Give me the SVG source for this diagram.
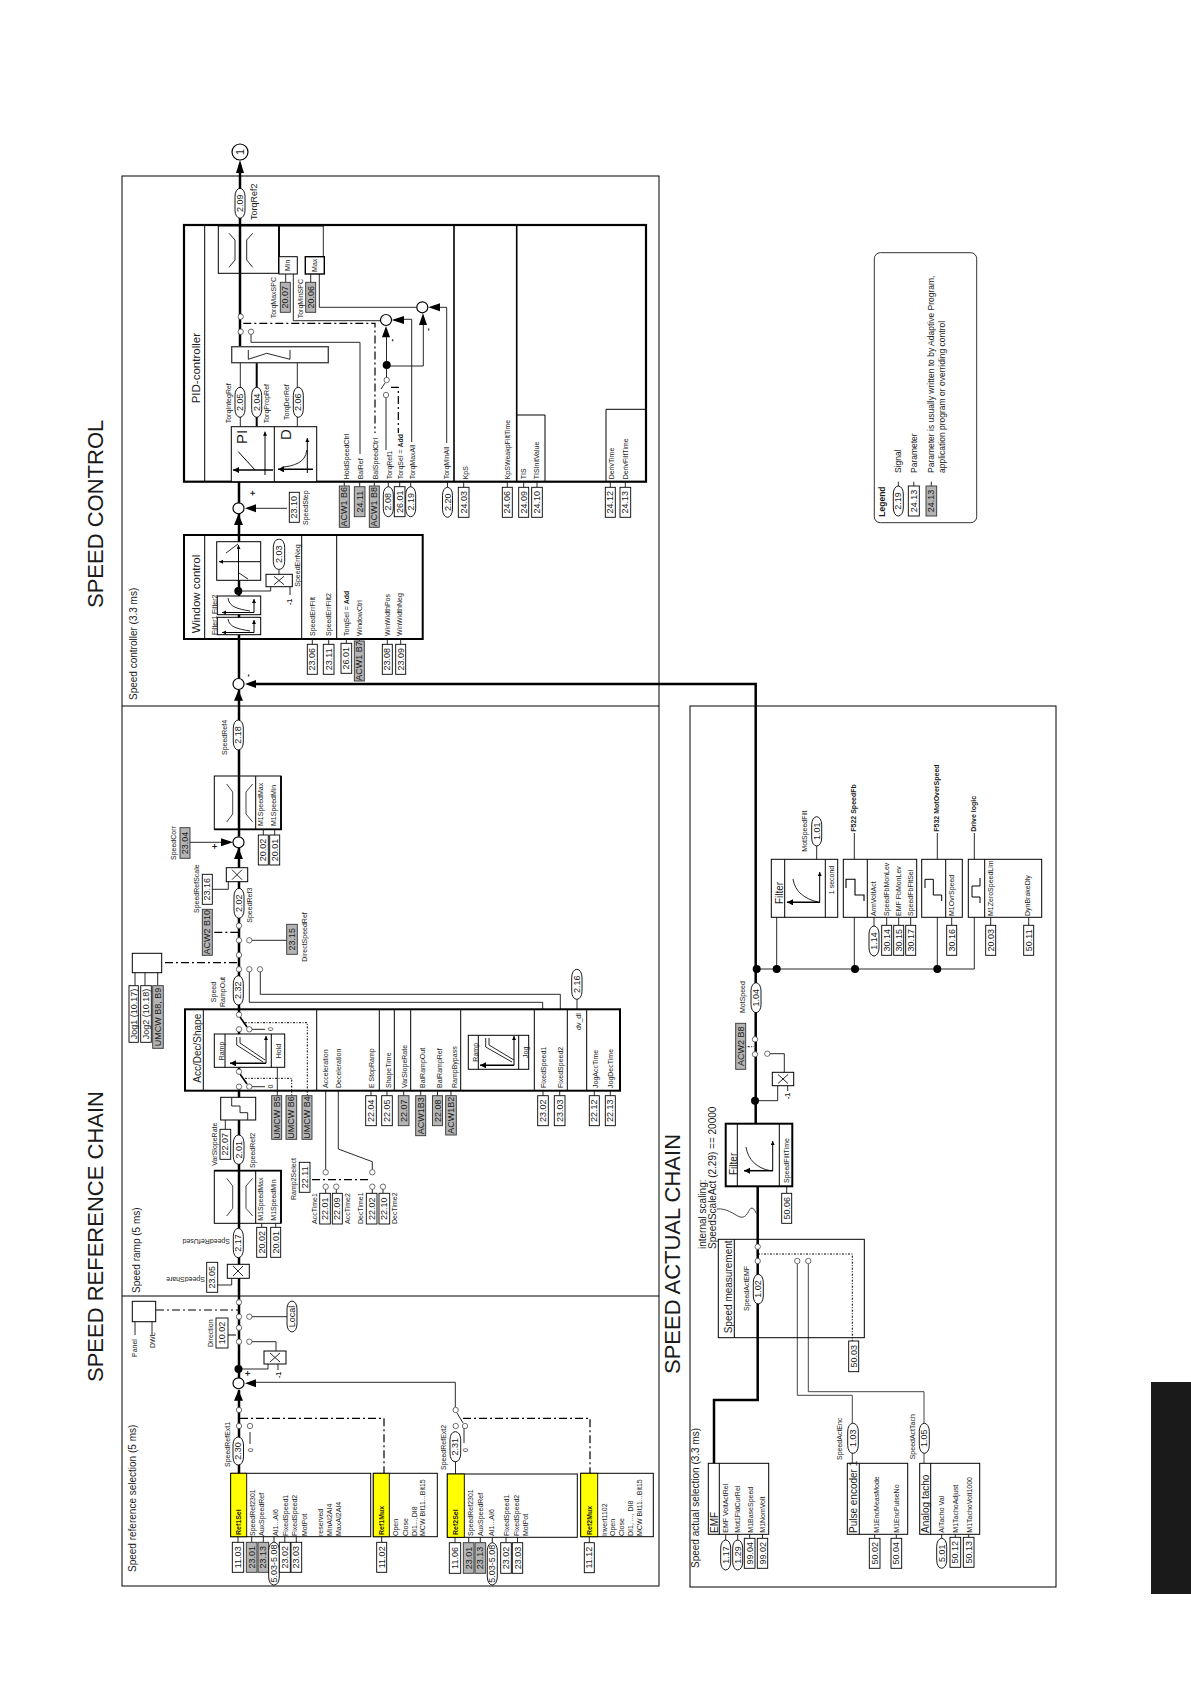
<svg xmlns="http://www.w3.org/2000/svg" width="1191" height="1684" viewBox="0 0 1191 1684">
<style>
text{font-family:"Liberation Sans",Arial,sans-serif;dominant-baseline:central;fill:#1a1a1a}
.h1{font-size:22px}.h2{font-size:10px}.h3{font-size:11.5px}
.t{font-size:7px}.c{font-size:7px;text-anchor:middle}.n{font-size:9px;text-anchor:middle}.b{font-weight:bold}
.a{font-size:9px}
.f{fill:none;stroke:#000;stroke-width:1}
.k{fill:none;stroke:#000;stroke-width:2.5}
.w{fill:none;stroke:#111;stroke-width:.9}
.gw{fill:none;stroke:#444;stroke-width:1}
.dd{fill:none;stroke:#000;stroke-width:1.2;stroke-dasharray:8 3 2 3}
.dt{fill:none;stroke:#000;stroke-width:1;stroke-dasharray:2 1.5 1 1.5}
.p{fill:#fff;stroke:#000;stroke-width:.9}
.g{fill:#b4b4b4;stroke:#333;stroke-width:.9}
.y{fill:#ffff00;stroke:#000;stroke-width:.9}
.B{fill:#fff;stroke:#000;stroke-width:1}
.T{fill:#fff;stroke:#000;stroke-width:2}
.o{fill:#fff;stroke:#333;stroke-width:.7}
.d{fill:#000}
.s{fill:#fff;stroke:#000;stroke-width:1.2}
.ah{fill:#000}
.ax{fill:none;stroke:#000;stroke-width:1;marker-end:url(#m)}
.ax2{fill:none;stroke:#000;stroke-width:1.5;marker-end:url(#m)}
</style>
<defs><marker id="m" markerWidth="6" markerHeight="6" refX="4" refY="2" orient="auto"><path d="M0 0L4 2L0 4Z" fill="#000"/></marker></defs>

<g id="frames">
<rect class="B" x="122" y="176" width="537" height="1410"/>
<path class="f" d="M122 706H659M122 1296H659"/>
<rect class="B" x="690" y="706" width="366" height="881"/>
</g>
<rect id="black-tab" x="1151" y="1382" width="40" height="212" fill="#1a1a1a"/>

<g id="titles">
<text class="h1" transform="translate(95 1382)rotate(-90)">SPEED REFERENCE CHAIN</text>
<text class="h1" transform="translate(95 608)rotate(-90)">SPEED CONTROL</text>
<text class="h1" transform="translate(672 1374)rotate(-90)">SPEED ACTUAL CHAIN</text>
<text class="h2" transform="translate(132 1572)rotate(-90)">Speed reference selection (5 ms)</text>
<text class="h2" transform="translate(136 1293)rotate(-90)">Speed ramp (5 ms)</text>
<text class="h2" transform="translate(133 700)rotate(-90)">Speed controller (3.3 ms)</text>
<text class="h2" transform="translate(695 1568)rotate(-90)">Speed actual selection (3.3 ms)</text>
<text class="h2" transform="translate(702 1249)rotate(-90)">internal scaling:</text>
<text class="h2" transform="translate(712 1249)rotate(-90)">SpeedScaleAct (2.29) == 20000</text>
</g>

<g id="connectors">
<path class="k" d="M240 165V346.7M239 481.7V503M239 514V678.5M239 690V836.5M239 848V1378M239 1390V1473"/>
<path class="k" d="M256 684H755.7V1124M757.7 1186V1400H714V1463.3"/>
<path class="w" d="M240.3 362.7V426.7M297.3 362.7V426.7"/><path d="M256.7 362.7V426.7" fill="none" stroke="#000" stroke-width="2"/>
<polygon class="ah" points="240,160 236,173 244,173"/>
<polygon class="ah" points="238.5,690 234,700.7 243,700.7"/><polygon class="ah" points="245,684 256,680 256,688"/>
<polygon class="ah" points="238.5,514 234,525 243,525"/><polygon class="ah" points="245,508.3 256,504.3 256,512.3"/>
<polygon class="ah" points="238.5,848 234,859 243,859"/><polygon class="ah" points="233,842.3 221,838.3 221,846.3"/>
<polygon class="ah" points="238.5,1390 234,1400.7 243,1400.7"/><polygon class="ah" points="245,1383.3 256,1379.3 256,1387.3"/>
<polygon class="ah" points="391.7,320 404,316 404,324"/><polygon class="ah" points="386,326 382,337.3 390,337.3"/>
<polygon class="ah" points="428.3,307.3 440,303.3 440,311.3"/><polygon class="ah" points="423,313.3 419,325 427,325"/>
<path class="w" d="M256 1382.3H455.3V1407M455.5 1461V1474M464 1428V1443"/>
<path class="dd" d="M240 1418.3H384V1473M463 1418.3H590V1474M156 1310H238M228 1335H238M165 962.7H238M214.3 932.3H238M312 1179.7H370"/>
<path class="w" d="M250 1432V1444M252 1316.7H287M252 1341.7H276V1350.7M268 1364V1369H239M278 1364V1370"/>
<path class="w" d="M135 1322V1335M152 1322V1335"/>
<path class="w" d="M457 1413L463 1423"/>
<path class="w" d="M231.7 1278.3V1285H217.7"/>
<path class="w" d="M249.3 971.7V1002.3H542.7V1009.3M260.3 971.7V994.3H560.3V1009.3"/>
<path class="w" d="M252 940.3H286.7M212.3 889.3H228.3V881.7M190 842.3H221"/>
<path class="w" d="M577 999.3V1009.3"/>
<path class="dt" d="M307.3 1090.7V1095.7M291.7 1090.7V1095.7"/>
<path class="w" d="M277.3 1090.7V1095.7M325.7 1090.7V1170M338.3 1090.7V1149L372.3 1161.7V1170"/>
<path class="w" d="M325.7 1189V1193.3M372.3 1189V1193.3M336.3 1189V1193.3M383 1189V1193.3"/>
<path class="w" d="M135 972.7V985.7M145 972.7V985.7M157.7 972.7V985.7"/>
<path class="w" d="M256 508.3H287"/>
<path class="w" d="M323.3 226V256.7M293.3 274V320.7H380M319.3 274V307.3H416.7"/>
<path class="w" d="M404 319.3H411.7V442M386.5 337V378M386.7 366H423.3V325M386 398V450"/>
<path class="w" d="M440 307.3H446.7V443M251 334V342.3H360V454"/>
<path class="dd" d="M243.3 323.3H375V433"/>
<path class="dd" d="M391 387.3H398.3V433"/>
<path class="w" d="M381 389L385 383"/>
<path class="w" d="M756.7 969H974.3M776.7 917V969M854.3 917V969M937.3 917V969M974.3 917V969"/>
<path class="w" d="M816.7 859.3V846M854.3 859.3V833M937.3 859.3V833M974.3 859.3V833"/>
<path class="dt" d="M735.7 1046.7H754M758 1254H852.3V1341"/>
<path class="w" d="M770 1053.7H784.3V1072.3M777.7 1085.7V1100.7H755M787.7 1085.7V1091M786.7 1186.3V1193.3"/>
<path class="gw" d="M797.3 1264V1395.3H852.3V1423.3M808.3 1264V1391.7H924V1423.3M852.3 1453.3V1463.3M924 1453.3V1463.3"/>
<path class="gw" d="M716.7 1209C727 1208 733 1214 740 1217C748 1219 748 1208 752 1208C755 1209 755 1212 757 1214"/>
</g>

<g id="Ref1Sel">
<rect class="B" x="230.7" y="1473.3" width="140" height="63.4"/><rect class="y" x="230.7" y="1473.3" width="16" height="63.4"/>
<text class="t b" transform="translate(238.7 1535)rotate(-90)">Ref1Sel</text>
<text class="t" transform="translate(252.7 1536)rotate(-90)">SpeedRef2301</text><text class="t" transform="translate(261.7 1536)rotate(-90)">AuxSpeedRef</text><text class="t" transform="translate(275.7 1536)rotate(-90)">AI1...AI6</text><text class="t" transform="translate(285 1536)rotate(-90)">FixedSpeed1</text><text class="t" transform="translate(294.3 1536)rotate(-90)">FixedSpeed2</text><text class="t" transform="translate(304 1536)rotate(-90)">MotPot</text><text class="t" transform="translate(320.7 1536)rotate(-90)">reserved</text><text class="t" transform="translate(329.3 1536)rotate(-90)">MinAI2AI4</text><text class="t" transform="translate(338.3 1536)rotate(-90)">MaxAI2AI4</text>
<path class="w" d="M238 1536.7V1542.3M251.7 1536.7V1542.3M263.3 1536.7V1542.3M274 1536.7V1542.3M284.8 1536.7V1542.3M296.3 1536.7V1542.3"/>
<rect class="p" x="232.3" y="1542.3" width="11.4" height="30"/><text class="n" transform="translate(238 1557.3)rotate(-90)">11.03</text>
<rect class="g" x="246.3" y="1542.3" width="10.7" height="30"/><text class="n" transform="translate(251.7 1557.3)rotate(-90)">23.01</text>
<rect class="g" x="258" y="1542.3" width="10.7" height="30"/><text class="n" transform="translate(263.3 1557.3)rotate(-90)">23.13</text>
<rect class="p" x="268.7" y="1542.3" width="10.6" height="42.7" rx="5" ry="8"/><text class="n" transform="translate(274 1563.6)rotate(-90)">5.03-5.08</text>
<rect class="p" x="279.3" y="1542.3" width="11" height="30"/><text class="n" transform="translate(284.8 1557.3)rotate(-90)">23.02</text>
<rect class="p" x="291" y="1542.3" width="10.7" height="30"/><text class="n" transform="translate(296.3 1557.3)rotate(-90)">23.03</text>
</g>
<g id="Ref1Mux">
<rect class="B" x="373.3" y="1473.3" width="64" height="63.4"/><rect class="y" x="373.3" y="1473.3" width="16" height="63.4"/>
<text class="t b" transform="translate(381.3 1535)rotate(-90)">Ref1Mux</text>
<text class="t" transform="translate(395.7 1536)rotate(-90)">Open</text><text class="t" transform="translate(405 1536)rotate(-90)">Close</text><text class="t" transform="translate(414 1536)rotate(-90)">DI1...,DI8</text><text class="t" transform="translate(422.7 1536)rotate(-90)">MCW Bit11...Bit15</text>
<path class="w" d="M381.7 1536.7V1542.3"/>
<rect class="p" x="376.7" y="1542.3" width="10" height="30"/><text class="n" transform="translate(381.7 1557.3)rotate(-90)">11.02</text>
</g>
<g id="Ref2Sel">
<rect class="B" x="447.3" y="1474" width="130" height="63.3"/><rect class="y" x="447.3" y="1474" width="17" height="63.3"/>
<text class="t b" transform="translate(455.8 1535)rotate(-90)">Ref2Sel</text>
<text class="t" transform="translate(470.7 1536)rotate(-90)">SpeedRef2301</text><text class="t" transform="translate(480 1536)rotate(-90)">AuxSpeedRef</text><text class="t" transform="translate(491.7 1536)rotate(-90)">AI1...AI6</text><text class="t" transform="translate(506 1536)rotate(-90)">FixedSpeed1</text><text class="t" transform="translate(516 1536)rotate(-90)">FixedSpeed2</text><text class="t" transform="translate(525 1536)rotate(-90)">MotPot</text>
<path class="w" d="M455 1537.3V1542.7M468.7 1537.3V1542.7M480.3 1537.3V1542.7M492.3 1537.3V1542.7M506 1537.3V1542.7M517.5 1537.3V1542.7"/>
<rect class="p" x="449.3" y="1542.7" width="11.4" height="30.6"/><text class="n" transform="translate(455 1558)rotate(-90)">11.06</text>
<rect class="g" x="463.3" y="1542.7" width="10.7" height="30.6"/><text class="n" transform="translate(468.7 1558)rotate(-90)">23.01</text>
<rect class="g" x="475" y="1542.7" width="10.7" height="30.6"/><text class="n" transform="translate(480.3 1558)rotate(-90)">23.13</text>
<rect class="p" x="487.3" y="1542.7" width="10" height="42.3" rx="5" ry="8"/><text class="n" transform="translate(492.3 1563.8)rotate(-90)">5.03-5.08</text>
<rect class="p" x="500.7" y="1542.7" width="10.6" height="30.6"/><text class="n" transform="translate(506 1558)rotate(-90)">23.02</text>
<rect class="p" x="512.3" y="1542.7" width="10.4" height="30.6"/><text class="n" transform="translate(517.5 1558)rotate(-90)">23.03</text>
</g>
<g id="Ref2Mux">
<rect class="B" x="580.7" y="1473.3" width="72.6" height="63.4"/><rect class="y" x="580.7" y="1473.3" width="17" height="63.4"/>
<text class="t b" transform="translate(589.2 1535)rotate(-90)">Ref2Mux</text>
<text class="t" transform="translate(604 1536)rotate(-90)">Invert1102</text><text class="t" transform="translate(612.7 1536)rotate(-90)">Open</text><text class="t" transform="translate(621.7 1536)rotate(-90)">Close</text><text class="t" transform="translate(630.7 1536)rotate(-90)">DI1, ..., DI8</text><text class="t" transform="translate(639.3 1536)rotate(-90)">MCW Bit11...Bit15</text>
<path class="w" d="M589.3 1536.7V1542.7"/>
<rect class="p" x="584.3" y="1542.7" width="10" height="30"/><text class="n" transform="translate(589.3 1557.7)rotate(-90)">11.12</text>
</g>
<g id="Ext1">
<rect class="p" x="233" y="1437" width="10.5" height="28" rx="5" ry="8"/><text class="n" transform="translate(238.3 1451)rotate(-90)">2.30</text>
<text class="t" transform="translate(227.3 1467)rotate(-90)">SpeedRefExt1</text>
<text class="t" transform="translate(250 1452)rotate(-90)">0</text>
</g>
<g id="Ext2">
<rect class="p" x="450" y="1431.7" width="10.7" height="30" rx="5" ry="8"/><text class="n" transform="translate(455.3 1446.7)rotate(-90)">2.31</text>
<text class="t" transform="translate(443.3 1470)rotate(-90)">SpeedRefExt2</text>
<text class="t" transform="translate(465.7 1452)rotate(-90)">0</text>
</g>
<g id="Switches">
<circle class="o" cx="239" cy="1410" r="2.7"/><circle class="o" cx="239" cy="1426" r="2.7"/><circle class="o" cx="250" cy="1426" r="2.7"/>
<circle class="o" cx="455.7" cy="1410" r="2.7"/><circle class="o" cx="455.7" cy="1426" r="2.7"/><circle class="o" cx="465" cy="1426" r="2.7"/>
<circle class="o" cx="239" cy="1302.3" r="2.7"/><circle class="o" cx="239" cy="1316.7" r="2.7"/><circle class="o" cx="239" cy="1327.7" r="2.7"/><circle class="o" cx="239" cy="1341.7" r="2.7"/><circle class="o" cx="249.3" cy="1316.7" r="2.7"/><circle class="o" cx="249.3" cy="1341.7" r="2.7"/>
<circle class="d" cx="238.5" cy="1369" r="4"/><circle class="s" cx="238.5" cy="1383.3" r="5.5"/>
<circle class="s" cx="238.5" cy="842.3" r="5.5"/><circle class="s" cx="238.5" cy="684" r="5.5"/><circle class="s" cx="238.5" cy="508.3" r="5.5"/>
<circle class="s" cx="386" cy="320" r="5.5"/><circle class="s" cx="422.3" cy="307.3" r="5.5"/><circle class="d" cx="386.7" cy="365" r="4"/>
<circle class="o" cx="239" cy="925.7" r="2.7"/><circle class="o" cx="239" cy="940.3" r="2.7"/><circle class="o" cx="239" cy="955" r="2.7"/><circle class="o" cx="239" cy="969.3" r="2.7"/>
<circle class="o" cx="249.3" cy="940.3" r="2.7"/><circle class="o" cx="249.3" cy="969.3" r="2.7"/><circle class="o" cx="260" cy="969.3" r="2.7"/>
<circle class="o" cx="325.7" cy="1172.3" r="2.7"/><circle class="o" cx="325.7" cy="1186.7" r="2.7"/><circle class="o" cx="336.3" cy="1186.7" r="2.7"/>
<circle class="o" cx="372.3" cy="1172.3" r="2.7"/><circle class="o" cx="372.3" cy="1186.7" r="2.7"/><circle class="o" cx="383" cy="1186.7" r="2.7"/>
<circle class="o" cx="240.7" cy="316.7" r="2.7"/><circle class="o" cx="240.7" cy="331.7" r="2.7"/><circle class="o" cx="251" cy="331.7" r="2.7"/>
<circle class="o" cx="386.7" cy="380" r="2.7"/><circle class="o" cx="386" cy="395" r="2.7"/>
<circle class="d" cx="756.7" cy="969" r="4"/><circle class="d" cx="776.7" cy="969" r="4"/><circle class="d" cx="855" cy="969" r="4"/><circle class="d" cx="937.3" cy="969" r="4"/><circle class="d" cx="755" cy="1100.7" r="4"/>
<circle class="o" cx="755" cy="1039.3" r="2.7"/><circle class="o" cx="755" cy="1054.3" r="2.7"/><circle class="o" cx="767.3" cy="1053.7" r="2.7"/>
<circle class="o" cx="757.7" cy="1246.7" r="2.7"/><circle class="o" cx="757.7" cy="1261" r="2.7"/><circle class="o" cx="797.3" cy="1261" r="2.7"/><circle class="o" cx="808.3" cy="1261" r="2.7"/>
<text class="a b" transform="translate(248 1376)rotate(-90)">+</text>
<text class="a b" transform="translate(215 849)rotate(-90)">+</text>
<text class="a b" transform="translate(253 495.7)rotate(-90)">+</text>
<text class="a b" transform="translate(247.7 677)rotate(-90)">-</text>
<text class="a b" transform="translate(391.7 341.7)rotate(-90)">-</text>
<text class="a b" transform="translate(428.3 331)rotate(-90)">-</text>
</g>
<g id="Panel">
<rect class="B" x="132.3" y="1301.3" width="23.4" height="20.4"/>
<text class="t" transform="translate(134 1357)rotate(-90)">Panel</text><text class="t" transform="translate(152 1348)rotate(-90)">DWL</text>
</g>
<g id="Local"><rect class="p" x="287" y="1301" width="10" height="31" rx="5" ry="8"/><text class="n" transform="translate(292 1316.5)rotate(-90)">Local</text></g>
<g id="Direction"><rect class="p" x="216" y="1318" width="12" height="30"/><text class="n" transform="translate(222 1333)rotate(-90)">10.02</text><text class="t" transform="translate(210 1347)rotate(-90)">Direction</text></g>
<g id="Neg1"><rect class="B" x="264" y="1351" width="22" height="13"/><path class="w" d="M270 1353L280 1362M280 1353L270 1362"/><text class="t b" transform="translate(278 1378)rotate(-90)">-1</text></g>
<g id="SpeedShare">
<rect class="B" x="227.3" y="1264.3" width="22" height="14"/><path class="w" d="M233 1266L243 1276M243 1266L233 1276"/>
<rect class="p" x="206.7" y="1262.3" width="11" height="30"/><text class="n" transform="translate(212.2 1277.3)rotate(-90)">23.05</text>
<text class="t" transform="translate(205 1279)rotate(180)">SpeedShare</text>
</g>
<g id="sig217"><rect class="p" x="233.3" y="1228.3" width="10" height="29.4" rx="5" ry="8"/><text class="n" transform="translate(238.3 1243)rotate(-90)">2.17</text><text class="t" transform="translate(230 1241.7)rotate(180)">SpeedRefUsed</text></g>
<g id="Limiter1">
<rect class="B" x="214.3" y="1170.7" width="66.7" height="52.6"/>
<path fill="none" stroke="#000" stroke-width="1.8" d="M214.3 1170.7H281V1223.3"/><path class="k" d="M239 1170.7V1223.3"/>
<path class="f" d="M255.7 1170.7V1223.3"/>
<path class="gw" d="M226.7 1178.3L232.7 1186V1208.3L226.7 1216M252.7 1178.3L246 1186V1208.3L252.7 1216"/>
<text class="t" transform="translate(260 1220.7)rotate(-90)">M1SpeedMax</text><text class="t" transform="translate(273.3 1220.7)rotate(-90)">M1SpeedMin</text>
<path class="w" d="M261.7 1223.3V1227.3M275.7 1223.3V1227.3"/>
<rect class="p" x="256.7" y="1227.3" width="10" height="30"/><text class="n" transform="translate(261.7 1242.3)rotate(-90)">20.02</text>
<rect class="p" x="270.7" y="1227.3" width="10" height="30"/><text class="n" transform="translate(275.7 1242.3)rotate(-90)">20.01</text>
</g>
<g id="sig201"><rect class="p" x="233.3" y="1135" width="10.7" height="29.3" rx="5" ry="8"/><text class="n" transform="translate(238.6 1149.7)rotate(-90)">2.01</text><text class="t" transform="translate(252.7 1168)rotate(-90)">SpeedRef2</text></g>
<g id="VarSlope">
<rect class="B" x="220.7" y="1097.3" width="35" height="22.7"/>
<path class="w" d="M231.7 1097.3V1106H240V1112.7H247.7V1120"/>
<path class="w" d="M225.3 1120V1129.3"/>
<rect class="p" x="220" y="1129.3" width="10.7" height="30"/><text class="n" transform="translate(225.3 1144.3)rotate(-90)">22.07</text>
<text class="t" transform="translate(214 1165.7)rotate(-90)">VarSlopeRate</text>
</g>
<g id="AccDecShape">
<rect class="T" x="185" y="1009.3" width="435" height="81.4"/>
<path class="f" d="M203.3 1009.3V1090.7M316.7 1009.3V1090.7M379.3 1009.3V1090.7M394.3 1009.3V1090.7M410.7 1009.3V1090.7M460.7 1009.3V1090.7M534.3 1009.3V1090.7M567.3 1009.3V1090.7M586.7 1009.3V1090.7"/>
<text class="h2" transform="translate(197 1082.7)rotate(-90)">Acc/Dec/Shape</text>
<path class="k" d="M239 1009.3V1016M239 1029.3V1034M239 1067.3V1073M239 1086.7V1091"/>
<path fill="none" stroke="#000" stroke-width="1.6" d="M240 1017L247 1027M240 1074L247 1084"/>
<path class="w" d="M252 1029.3H265M252 1086.7H265"/>
<circle class="o" cx="239" cy="1014.7" r="2.7"/><circle class="o" cx="239" cy="1029.3" r="2.7"/><circle class="o" cx="249.3" cy="1029.3" r="2.7"/>
<circle class="o" cx="239" cy="1071.7" r="2.7"/><circle class="o" cx="239" cy="1086.7" r="2.7"/><circle class="o" cx="249.3" cy="1086.7" r="2.7"/>
<path class="dt" d="M245 1022.7H307.3V1090.7M245 1078.3H291.7V1090.7"/>
<text class="t" transform="translate(270.7 1031)rotate(-90)">0</text><text class="t" transform="translate(270.7 1088.5)rotate(-90)">0</text>
<rect class="B" x="214.3" y="1034" width="70.4" height="33.3"/><path class="f" d="M225 1034V1067.3M271.3 1034V1067.3"/>
<path class="w" d="M277.3 1067.3V1090.7"/>
<text class="c" transform="translate(221 1051)rotate(-90)">Ramp</text><text class="c" transform="translate(278 1051)rotate(-90)">Hold</text>
<path class="w" d="M236.7 1037V1045L263 1062M240 1037V1043L265 1060"/>
<path class="ax" d="M266 1063.3V1036"/><path class="ax2" d="M266 1063.3H230"/>
<text class="t" transform="translate(325 1088)rotate(-90)">Acceleration</text><text class="t" transform="translate(338.3 1088)rotate(-90)">Deceleration</text>
<text class="t" transform="translate(371.7 1088)rotate(-90)">E StopRamp</text><text class="t" transform="translate(388.3 1088)rotate(-90)">ShapeTime</text><text class="t" transform="translate(404 1088)rotate(-90)">VarSlopeRate</text><text class="t" transform="translate(422.3 1088)rotate(-90)">BalRampOut</text><text class="t" transform="translate(439.3 1088)rotate(-90)">BalRampRef</text><text class="t" transform="translate(454 1088)rotate(-90)">RampBypass</text>
<rect class="B" x="468.3" y="1035.3" width="60.4" height="34"/><path class="f" d="M478.3 1035.3V1069.3M518.7 1035.3V1069.3"/>
<text class="c" transform="translate(475 1052.3)rotate(-90)">Ramp</text><text class="c" transform="translate(525 1052.3)rotate(-90)">Jog</text>
<path class="w" d="M485.7 1038V1047L512 1062M489 1038V1045L514 1060"/>
<path class="ax" d="M514 1065.3V1036"/><path class="ax2" d="M514 1065.3H480"/>
<text class="t" transform="translate(543.3 1088)rotate(-90)">FixedSpeed1</text><text class="t" transform="translate(560 1088)rotate(-90)">FixedSpeed2</text>
<text class="t" transform="translate(578 1030)rotate(-90)">dv_dl</text>
<text class="t" transform="translate(595.7 1088)rotate(-90)">JogAccTime</text><text class="t" transform="translate(610 1088)rotate(-90)">JogDecTime</text>
</g>
<g id="AccDecParams">
<path class="w" d="M371 1090.7V1095.7M387 1090.7V1095.7M403.7 1090.7V1095.7M420.7 1090.7V1095.7M437.5 1090.7V1095.7M451 1090.7V1095.7M543 1090.7V1095.7M559.7 1090.7V1095.7M594.3 1090.7V1095.7M610.3 1090.7V1095.7"/>
<rect class="g" x="271.7" y="1095.7" width="10" height="43.6"/><text class="n" transform="translate(276.7 1117.5)rotate(-90)">UMCW B5</text>
<rect class="g" x="286" y="1095.7" width="10.7" height="43.6"/><text class="n" transform="translate(291.3 1117.5)rotate(-90)">UMCW B6</text>
<rect class="g" x="302" y="1095.7" width="10" height="43.6"/><text class="n" transform="translate(307 1117.5)rotate(-90)">UMCW B4</text>
<rect class="p" x="365.7" y="1095.7" width="10.6" height="30"/><text class="n" transform="translate(371 1110.7)rotate(-90)">22.04</text>
<rect class="p" x="381.7" y="1095.7" width="10.6" height="30"/><text class="n" transform="translate(387 1110.7)rotate(-90)">22.05</text>
<rect class="g" x="398.3" y="1095.7" width="10.7" height="30"/><text class="n" transform="translate(403.7 1110.7)rotate(-90)">22.07</text>
<rect class="g" x="415.7" y="1095.7" width="10" height="40"/><text class="n" transform="translate(420.7 1115.7)rotate(-90)">ACW1B3</text>
<rect class="g" x="432.5" y="1095.7" width="10" height="30"/><text class="n" transform="translate(437.5 1110.7)rotate(-90)">22.08</text>
<rect class="g" x="445.7" y="1095.7" width="10.6" height="39.3"/><text class="n" transform="translate(451 1115.3)rotate(-90)">ACW1B2</text>
<rect class="p" x="537.7" y="1095.7" width="10.6" height="30"/><text class="n" transform="translate(543 1110.7)rotate(-90)">23.02</text>
<rect class="p" x="554.3" y="1095.7" width="10.7" height="30"/><text class="n" transform="translate(559.7 1110.7)rotate(-90)">23.03</text>
<rect class="p" x="589.3" y="1095.7" width="10" height="30"/><text class="n" transform="translate(594.3 1110.7)rotate(-90)">22.12</text>
<rect class="p" x="605.3" y="1095.7" width="10" height="30"/><text class="n" transform="translate(610.3 1110.7)rotate(-90)">22.13</text>
<rect class="p" x="571.7" y="969.3" width="10.3" height="30" rx="5" ry="8"/><text class="n" transform="translate(576.9 984.3)rotate(-90)">2.16</text>
</g>
<g id="RampTimes">
<rect class="p" x="299.3" y="1162.3" width="10.7" height="30"/><text class="n" transform="translate(304.7 1177.3)rotate(-90)">22.11</text>
<text class="t" transform="translate(293.3 1200)rotate(-90)">Ramp2Select</text>
<rect class="p" x="319.7" y="1193.3" width="10.6" height="30.7"/><text class="n" transform="translate(325 1208.7)rotate(-90)">22.01</text>
<rect class="p" x="332.3" y="1193.3" width="10" height="30.7"/><text class="n" transform="translate(337.3 1208.7)rotate(-90)">22.09</text>
<rect class="p" x="366.3" y="1193.3" width="10.7" height="30.7"/><text class="n" transform="translate(371.7 1208.7)rotate(-90)">22.02</text>
<rect class="p" x="379" y="1193.3" width="10.7" height="30.7"/><text class="n" transform="translate(384.3 1208.7)rotate(-90)">22.10</text>
<text class="t" transform="translate(314 1224)rotate(-90)">AccTime1</text><text class="t" transform="translate(347.3 1224)rotate(-90)">AccTime2</text><text class="t" transform="translate(360.7 1224)rotate(-90)">DecTime1</text><text class="t" transform="translate(394 1224)rotate(-90)">DecTime2</text>
</g>
<g id="Jog">
<rect class="B" x="132.3" y="953.3" width="29.4" height="19.4"/>
<rect class="p" x="129" y="985.7" width="9.3" height="56.6"/><text class="n" transform="translate(133.7 1014)rotate(-90)">Jog1 (10.17)</text>
<rect class="p" x="140.7" y="985.7" width="10.6" height="56.6"/><text class="n" transform="translate(146 1014)rotate(-90)">Jog2 (10.18)</text>
<rect class="g" x="152.7" y="985.7" width="10.6" height="62.6"/><text class="n" transform="translate(158 1017)rotate(-90)">UMCW B8, B9</text>
</g>
<g id="sig232"><rect class="p" x="233.3" y="975.7" width="10" height="29.3" rx="5" ry="8"/><text class="n" transform="translate(238.3 990.3)rotate(-90)">2.32</text><text class="c" transform="translate(213.3 992)rotate(-90)">Speed</text><text class="c" transform="translate(222.7 992)rotate(-90)">RampOut</text></g>
<g id="DirectRef"><rect class="g" x="286.7" y="924.3" width="10.6" height="30"/><text class="n" transform="translate(292 939.3)rotate(-90)">23.15</text><text class="t" transform="translate(304 961.7)rotate(-90)">DirectSpeedRef</text></g>
<g id="ACW2B10"><rect class="g" x="202.3" y="909.3" width="10" height="46"/><text class="n" transform="translate(207.3 932.3)rotate(-90)">ACW2 B10</text></g>
<g id="sig202"><rect class="p" x="234" y="888.3" width="10" height="30" rx="5" ry="8"/><text class="n" transform="translate(239 903.3)rotate(-90)">2.02</text><text class="t" transform="translate(249.3 922.7)rotate(-90)">SpeedRef3</text></g>
<g id="RefScale">
<rect class="B" x="226.3" y="867.7" width="21.4" height="14"/><path class="w" d="M232 869.7L242 879.7M242 869.7L232 879.7"/>
<rect class="p" x="202.3" y="874.3" width="10" height="30"/><text class="n" transform="translate(207.3 889.3)rotate(-90)">23.16</text>
<text class="t" transform="translate(196 913)rotate(-90)">SpeedRefScale</text>
</g>
<g id="SpeedCorr"><rect class="g" x="180" y="827.7" width="10" height="30.6"/><text class="n" transform="translate(185 843)rotate(-90)">23.04</text><text class="t" transform="translate(173.3 860)rotate(-90)">SpeedCorr</text></g>
<g id="Limiter2">
<rect class="B" x="214.3" y="776" width="66.7" height="53.3"/>
<path fill="none" stroke="#000" stroke-width="1.8" d="M214.3 829.3H281V776"/><path class="k" d="M239 776V829.3"/>
<path class="f" d="M255.7 776V829.3"/>
<path class="gw" d="M226.7 784L232.7 792V814L226.7 822M252.7 784L246 792V814L252.7 822"/>
<text class="t" transform="translate(260.7 826)rotate(-90)">M1SpeedMax</text><text class="t" transform="translate(273.3 826)rotate(-90)">M1SpeedMin</text>
<path class="w" d="M263.3 829.3V835M274.7 829.3V835"/>
<rect class="p" x="258.3" y="835" width="10" height="30"/><text class="n" transform="translate(263.3 850)rotate(-90)">20.02</text>
<rect class="p" x="269.7" y="835" width="10" height="30"/><text class="n" transform="translate(274.7 850)rotate(-90)">20.01</text>
</g>
<g id="sig218"><rect class="p" x="233.3" y="720" width="10" height="30" rx="5" ry="8"/><text class="n" transform="translate(238.3 735)rotate(-90)">2.18</text><text class="t" transform="translate(224.3 755)rotate(-90)">SpeedRef4</text></g>

<g id="WindowControl">
<rect class="T" x="184" y="535" width="238.7" height="104"/>
<path class="f" d="M204.7 535V639M301.7 535V639M336.7 535V639"/>
<text class="h3" transform="translate(196 633.3)rotate(-90)">Window control</text>
<path class="k" d="M239 535V542M239 580V596M239 634.7V639"/>
<rect class="B" x="216.7" y="541.7" width="44" height="38.6"/>
<path class="ax" d="M260 561.7H219"/><path class="ax" d="M238.5 580V545"/>
<path class="w" d="M226 553L238 544M239 573L248 579"/>
<path class="w" d="M270.7 586.7V591H239M279 569.3V574.3M290 586.7V595"/>
<circle class="d" cx="238.3" cy="591" r="4"/>
<rect x="217.3" y="596" width="43.4" height="18.7" class="B"/><rect x="217.3" y="617.3" width="43.4" height="17.4" class="B"/>
<path class="k" d="M239 614.7V617.3"/>
<path class="w" d="M228 598C229 607 238 609 250 611M228 619C229 627 238 629 250 631"/>
<path class="ax" d="M254 612.5H222"/><path class="ax" d="M254 612.5V599"/><path class="ax" d="M254 632.5H222"/><path class="ax" d="M254 632.5V620"/>
<text class="t" transform="translate(214 614)rotate(-90)">Filter2</text><text class="t" transform="translate(214 635)rotate(-90)">Filter1</text>
<rect class="B" x="266" y="574.3" width="26.3" height="12.4"/><path class="w" d="M274 576.3L284 584.7M284 576.3L274 584.7"/>
<text class="t b" transform="translate(289.3 605)rotate(-90)">-1</text>
<text class="t" transform="translate(297 586.7)rotate(-90)">SpeedErrNeg</text>
<rect class="p" x="273.3" y="539.3" width="11.4" height="30" rx="5" ry="8"/><text class="n" transform="translate(279 554.3)rotate(-90)">2.03</text>
<text class="t" transform="translate(312.3 636)rotate(-90)">SpeedErrFilt</text><text class="t" transform="translate(328.3 636)rotate(-90)">SpeedErrFilt2</text><text class="t" transform="translate(346 636)rotate(-90)">TorqSel = <tspan class="b">Add</tspan></text><text class="t" transform="translate(359.3 636)rotate(-90)">WindowCtrl</text><text class="t" transform="translate(387.3 636)rotate(-90)">WinWidthPos</text><text class="t" transform="translate(399.3 636)rotate(-90)">WinWidthNeg</text>
<path class="w" d="M312.3 639V644.3M328.7 639V644.3M346.3 639V643.3M359.3 639V641M387.3 639V644.3M400.7 639V644.3"/>
<rect class="p" x="307.3" y="644.3" width="10" height="30"/><text class="n" transform="translate(312.3 659.3)rotate(-90)">23.06</text>
<rect class="p" x="323.3" y="644.3" width="10.7" height="30"/><text class="n" transform="translate(328.7 659.3)rotate(-90)">23.11</text>
<rect class="p" x="341" y="643.3" width="10.7" height="30"/><text class="n" transform="translate(346.3 658.3)rotate(-90)">26.01</text>
<rect class="g" x="354.3" y="641" width="10" height="40"/><text class="n" transform="translate(359.3 661)rotate(-90)">ACW1 B7</text>
<rect class="p" x="382.3" y="644.3" width="10" height="30"/><text class="n" transform="translate(387.3 659.3)rotate(-90)">23.08</text>
<rect class="p" x="395.7" y="644.3" width="10" height="30"/><text class="n" transform="translate(400.7 659.3)rotate(-90)">23.09</text>
</g>
<g id="SpeedStep"><rect class="p" x="289.3" y="492.3" width="10" height="30"/><text class="n" transform="translate(294.3 507.3)rotate(-90)">23.10</text><text class="t" transform="translate(305.7 525)rotate(-90)">SpeedStep</text></g>

<g id="PID">
<rect x="184" y="225" width="462" height="256.7" fill="none" stroke="#000" stroke-width="2.2"/>
<path class="f" d="M204.7 225V481.7"/>
<path d="M454 225V481.7M516.7 225V481.7" fill="none" stroke="#000" stroke-width="1.6"/>
<path class="f" d="M516.7 415H545V481.7M606 481.7V409.3H646"/>
<text class="h3" transform="translate(196 403.3)rotate(-90)">PID-controller</text>
<rect x="231.7" y="346.7" width="96.6" height="16" fill="#fff" stroke="#444" stroke-width="1.4"/>
<path class="w" d="M248.3 350V359.3L266.7 353.3L290 359.3V350"/>
<rect class="B" x="231.3" y="426.7" width="85.4" height="55"/><path class="f" d="M274.3 426.7V481.7"/>
<text class="h1" style="font-size:15px" transform="translate(241 444)rotate(-90)">PI</text>
<text class="h1" style="font-size:15px" transform="translate(285 440)rotate(-90)">D</text>
<path class="ax" d="M265 475V431.7"/><path class="ax2" d="M273 470H233"/><path d="M255 470L238.3 451.7" class="f"/>
<path class="ax" d="M307.3 473V438"/><path class="ax2" d="M313 469.3H278"/><path class="w" d="M281.7 467.3C293 466 306 463 306.7 450"/>
<text class="t" transform="translate(228.3 423.3)rotate(-90)">TorqIntegRef</text><text class="t" transform="translate(266.7 423.3)rotate(-90)">TorqPropRef</text><text class="t" transform="translate(286 420)rotate(-90)">TorqDerRef</text>
<rect class="p" x="235" y="387.3" width="10" height="30" rx="5" ry="8"/><text class="n" transform="translate(240 402.3)rotate(-90)">2.05</text>
<rect class="p" x="251.7" y="387.3" width="10" height="30" rx="5" ry="8"/><text class="n" transform="translate(256.7 402.3)rotate(-90)">2.04</text>
<rect class="p" x="293.3" y="387.3" width="10" height="30" rx="5" ry="8"/><text class="n" transform="translate(298.3 402.3)rotate(-90)">2.06</text>
<rect x="218.3" y="226" width="60.7" height="47.3" class="B"/><path fill="none" stroke="#000" stroke-width="1.8" d="M279 226V273.3"/>
<path class="k" d="M240 226V273.3"/>
<path class="w" d="M229 233.3L235 240V260L229 267.3M252.7 233.3L246.7 240V260L252.7 267.3"/>
<path class="f" d="M279 226H323.3"/>
<rect class="B" x="279" y="256.7" width="18.3" height="17.3"/><text class="c" transform="translate(287.7 265.3)rotate(-90)">Min</text>
<rect x="305.3" y="256.7" width="19" height="17.3" fill="#fff" stroke="#000" stroke-width="1.4"/><text class="c" transform="translate(314.3 265.3)rotate(-90)">Max</text>
<path class="w" d="M285.7 274V282.3M310.7 274V282.3"/>
<rect class="g" x="280.3" y="282.3" width="10" height="30"/><text class="n" transform="translate(285.3 297.3)rotate(-90)">20.07</text>
<rect class="g" x="305.7" y="282.3" width="10" height="30"/><text class="n" transform="translate(310.7 297.3)rotate(-90)">20.06</text>
<text class="t" transform="translate(273.3 318.3)rotate(-90)">TorqMaxSPC</text><text class="t" transform="translate(300 318.3)rotate(-90)">TorqMinSPC</text>
<text class="t" transform="translate(346 479.3)rotate(-90)">HoldSpeedCtrl</text><text class="t" transform="translate(360.7 479.3)rotate(-90)">BalRef</text><text class="t" transform="translate(375 479.3)rotate(-90)">BalSpeedCtrl</text><text class="t" transform="translate(389 479.3)rotate(-90)">TorqRef1</text><text class="t" transform="translate(400 479.3)rotate(-90)">TorqSel = <tspan class="b">Add</tspan></text><text class="t" transform="translate(412.7 479.3)rotate(-90)">TorqMaxAll</text><text class="t" transform="translate(446.7 479.3)rotate(-90)">TorqMinAll</text>
<text class="t" transform="translate(465 479.3)rotate(-90)">KpS</text><text class="t" transform="translate(507.7 479.3)rotate(-90)">KpSWeakpFiltTime</text><text class="t" transform="translate(523.3 479.3)rotate(-90)">TIS</text><text class="t" transform="translate(536.7 479.3)rotate(-90)">TISInitValue</text><text class="t" transform="translate(611 479.3)rotate(-90)">DerivTime</text><text class="t" transform="translate(625 479.3)rotate(-90)">DerivFiltTime</text>
</g>
<g id="PIDParams">
<path class="w" d="M344.3 481.7V486M359.7 481.7V486.7M374.3 481.7V486M388.3 481.7V486.7M399.7 481.7V486.7M410.7 481.7V486.7M447.5 481.7V487.3M463.7 481.7V487.3M507.3 481.7V487.3M523.7 481.7V487.3M537 481.7V487.3M610.3 481.7V487.3M625.3 481.7V487.3"/>
<rect class="g" x="339.3" y="486" width="10" height="41.3"/><text class="n" transform="translate(344.3 506.7)rotate(-90)">ACW1 B6</text>
<rect class="g" x="354.3" y="486.7" width="10.7" height="30"/><text class="n" transform="translate(359.7 501.7)rotate(-90)">24.11</text>
<rect class="g" x="369.3" y="486" width="10" height="41.3"/><text class="n" transform="translate(374.3 506.7)rotate(-90)">ACW1 B8</text>
<rect class="p" x="383.3" y="486.7" width="10" height="30" rx="5" ry="8"/><text class="n" transform="translate(388.3 501.7)rotate(-90)">2.08</text>
<rect class="p" x="394.3" y="486.7" width="10.7" height="30"/><text class="n" transform="translate(399.7 501.7)rotate(-90)">26.01</text>
<rect class="p" x="405.7" y="486.7" width="10" height="30" rx="5" ry="8"/><text class="n" transform="translate(410.7 501.7)rotate(-90)">2.19</text>
<rect class="p" x="442.5" y="487.3" width="10" height="30" rx="5" ry="8"/><text class="n" transform="translate(447.5 502.3)rotate(-90)">2.20</text>
<rect class="p" x="458.3" y="487.3" width="10.7" height="30"/><text class="n" transform="translate(463.7 502.3)rotate(-90)">24.03</text>
<rect class="p" x="502.3" y="487.3" width="10" height="30"/><text class="n" transform="translate(507.3 502.3)rotate(-90)">24.06</text>
<rect class="p" x="518.7" y="487.3" width="10" height="30"/><text class="n" transform="translate(523.7 502.3)rotate(-90)">24.09</text>
<rect class="p" x="531.7" y="487.3" width="10.6" height="30"/><text class="n" transform="translate(537 502.3)rotate(-90)">24.10</text>
<rect class="p" x="605.3" y="487.3" width="10" height="30"/><text class="n" transform="translate(610.3 502.3)rotate(-90)">24.12</text>
<rect class="p" x="620" y="487.3" width="10.7" height="30"/><text class="n" transform="translate(625.3 502.3)rotate(-90)">24.13</text>
</g>
<g id="sig209"><rect class="p" x="235" y="188.3" width="10" height="30" rx="5" ry="8"/><text class="n" transform="translate(240 203.3)rotate(-90)">2.09</text><text class="a" transform="translate(254 220)rotate(-90)">TorqRef2</text></g>
<g id="out1"><circle cx="240" cy="152" r="8" fill="#fff" stroke="#000" stroke-width="1.2"/><text class="a" style="font-size:11px" text-anchor="middle" transform="translate(240 152)rotate(-90)">1</text></g>

<g id="Legend">
<rect x="874.3" y="252.7" width="102.4" height="270" rx="6" fill="#fff" stroke="#333" stroke-width="1"/>
<text class="t b" style="font-size:8.5px" transform="translate(882 516.7)rotate(-90)">Legend</text>
<path class="w" d="M898.3 486V481.7M913.8 486V481.7M931.3 486V481.7"/>
<rect class="p" x="893.3" y="486" width="10" height="30" rx="5" ry="8"/><text class="n" transform="translate(898.3 501)rotate(-90)">2.19</text>
<rect class="p" x="908.3" y="486" width="11" height="30"/><text class="n" transform="translate(913.8 501)rotate(-90)">24.13</text>
<rect class="g" x="926" y="486" width="10.7" height="30"/><text class="n" transform="translate(931.3 501)rotate(-90)">24.13</text>
<text class="t" style="font-size:8.5px" transform="translate(897.7 473)rotate(-90)">Signal</text>
<text class="t" style="font-size:8.5px" transform="translate(914 473)rotate(-90)">Parameter</text>
<text class="t" style="font-size:8.5px" transform="translate(931 473)rotate(-90)">Parameter is usually written to by Adaptive Program,</text>
<text class="t" style="font-size:8.5px" transform="translate(941.7 473)rotate(-90)">application program or overriding control</text>
</g>

<g id="SpeedMeasurement">
<rect x="718.3" y="1239.3" width="146" height="98.4" fill="none" stroke="#000"/>
<path class="f" d="M734.3 1239.3V1337.7"/>
<text class="h2" transform="translate(728 1333.3)rotate(-90)">Speed measurement</text>
<rect class="p" x="753.3" y="1274.3" width="10" height="29.7" rx="5" ry="8"/><text class="n" transform="translate(758.3 1289)rotate(-90)">1.02</text>
<text class="t" transform="translate(746 1311)rotate(-90)">SpeedActEMF</text>
<rect class="p" x="848.7" y="1341" width="10" height="30.7"/><text class="n" transform="translate(853.7 1356.3)rotate(-90)">50.03</text>
</g>
<g id="EMF">
<rect class="B" x="708.3" y="1463.3" width="60.4" height="71"/><path class="f" d="M719.3 1463.3V1534.3"/>
<text class="h2" transform="translate(714 1533)rotate(-90)">EMF</text>
<text class="t" transform="translate(725.7 1532.7)rotate(-90)">EMF VoltActRel</text><text class="t" transform="translate(737.3 1532.7)rotate(-90)">Mot1FldCurRel</text><text class="t" transform="translate(750 1532.7)rotate(-90)">M1BaseSpeed</text><text class="t" transform="translate(762.7 1532.7)rotate(-90)">M1NomVolt</text>
<path class="w" d="M725.7 1534.3V1540M737.7 1534.3V1540M749.7 1534.3V1538.3M762.5 1534.3V1538.3"/>
<rect class="p" x="720.7" y="1540" width="10" height="30" rx="5" ry="8"/><text class="n" transform="translate(725.7 1555)rotate(-90)">1.17</text>
<rect class="p" x="732.7" y="1540" width="10" height="30" rx="5" ry="8"/><text class="n" transform="translate(737.7 1555)rotate(-90)">1.29</text>
<rect class="p" x="744.3" y="1538.3" width="10.7" height="30"/><text class="n" transform="translate(749.7 1553.3)rotate(-90)">99.04</text>
<rect class="p" x="757.3" y="1538.3" width="10.4" height="30"/><text class="n" transform="translate(762.5 1553.3)rotate(-90)">99.02</text>
</g>
<g id="PulseEncoder">
<rect class="B" x="847.3" y="1463.3" width="60.4" height="71"/><path class="f" d="M859.3 1463.3V1534.3"/>
<text class="h2" transform="translate(853.3 1533)rotate(-90)">Pulse encoder 1</text>
<text class="t" transform="translate(876.7 1532.7)rotate(-90)">M1EncMeasMode</text><text class="t" transform="translate(896 1532.7)rotate(-90)">M1EncPulseNo</text>
<path class="w" d="M874.7 1534.3V1538.3M896.3 1534.3V1538.3"/>
<rect class="p" x="869.3" y="1538.3" width="10.7" height="30"/><text class="n" transform="translate(874.7 1553.3)rotate(-90)">50.02</text>
<rect class="p" x="891" y="1538.3" width="10.7" height="30"/><text class="n" transform="translate(896.3 1553.3)rotate(-90)">50.04</text>
<rect class="p" x="847.7" y="1423.3" width="10.6" height="30" rx="5" ry="8"/><text class="n" transform="translate(853 1438.3)rotate(-90)">1.03</text>
<text class="t" transform="translate(839.3 1460)rotate(-90)">SpeedActEnc</text>
</g>
<g id="AnalogTacho">
<rect class="B" x="919.7" y="1463.3" width="60" height="71"/><path class="f" d="M930.7 1463.3V1534.3"/>
<text class="h2" transform="translate(925.3 1533)rotate(-90)">Analog tacho</text>
<text class="t" transform="translate(941.7 1532.7)rotate(-90)">AITacho Val</text><text class="t" transform="translate(955 1532.7)rotate(-90)">M1TachoAdjust</text><text class="t" transform="translate(969.3 1532.7)rotate(-90)">M1TachoVolt1000</text>
<path class="w" d="M941.7 1534.3V1538.3M955.3 1534.3V1537.3M968.7 1534.3V1537.3"/>
<rect class="p" x="936.7" y="1538.3" width="10" height="30" rx="5" ry="8"/><text class="n" transform="translate(941.7 1553.3)rotate(-90)">5.01</text>
<rect class="p" x="950" y="1537.3" width="10.7" height="30"/><text class="n" transform="translate(955.3 1552.3)rotate(-90)">50.12</text>
<rect class="p" x="963.3" y="1537.3" width="10.7" height="30"/><text class="n" transform="translate(968.7 1552.3)rotate(-90)">50.13</text>
<rect class="p" x="919.3" y="1423.3" width="10" height="30" rx="5" ry="8"/><text class="n" transform="translate(924.3 1438.3)rotate(-90)">1.05</text>
<text class="t" transform="translate(912.7 1459.3)rotate(-90)">SpeedActTach</text>
</g>
<g id="SpeedFilter">
<rect class="T" x="725.7" y="1123.7" width="66.6" height="62.6"/><path class="f" d="M737.3 1123.7V1186.3M779.3 1123.7V1186.3"/>
<text class="h2" transform="translate(733 1175)rotate(-90)">Filter</text>
<text class="t" transform="translate(786.7 1183)rotate(-90)">SpeedFiltTime</text>
<path class="w" d="M746 1147C748 1160 757 1168 770 1170.7"/><path class="ax2" d="M773 1170.7H744"/><path class="ax" d="M772.7 1170.7V1141"/>
<rect class="p" x="781.7" y="1193.3" width="10" height="30"/><text class="n" transform="translate(786.7 1208.3)rotate(-90)">50.06</text>
</g>
<g id="sig104"><rect class="p" x="751" y="982.7" width="10" height="30" rx="5" ry="8"/><text class="n" transform="translate(756 997.7)rotate(-90)">1.04</text><text class="t" transform="translate(742.7 1013)rotate(-90)">MotSpeed</text></g>
<g id="ACW2B8"><rect class="g" x="735.7" y="1023.3" width="10" height="46"/><text class="n" transform="translate(740.7 1046.3)rotate(-90)">ACW2 B8</text></g>
<g id="Neg2"><rect class="B" x="772.3" y="1072.3" width="21.4" height="13.4"/><path class="w" d="M778 1074.5L788 1083.5M788 1074.5L778 1083.5"/><text class="t b" transform="translate(787.3 1099)rotate(-90)">-1</text></g>
<g id="MotFilter">
<rect class="B" x="771.3" y="859.3" width="66.4" height="58"/><path class="f" d="M784.7 859.3V917.3M825.3 859.3V917.3"/>
<text class="h2" text-anchor="middle" transform="translate(779 893)rotate(-90)">Filter</text><text class="c" transform="translate(831.7 880)rotate(-90)">1 second</text>
<path class="w" d="M793 879C795 892 805 899 818 902"/><path class="ax2" d="M820 902.3H787"/><path class="ax" d="M819.7 902.3V872"/>
<rect class="p" x="811.7" y="816.7" width="10" height="29.3" rx="5" ry="8"/><text class="n" transform="translate(816.7 831.3)rotate(-90)">1.01</text>
<text class="t" transform="translate(804.3 851.7)rotate(-90)">MotSpeedFilt</text>
</g>
<g id="F522">
<rect class="B" x="843.3" y="859.3" width="73.4" height="58"/><path class="f" d="M867.3 859.3V917.3"/>
<path fill="none" stroke="#000" stroke-width="1.1" d="M846 888V879.3H855V895H864V901"/>
<text class="t b" transform="translate(853.3 831.7)rotate(-90)">F522 SpeedFb</text>
<text class="t" transform="translate(873.3 916)rotate(-90)">ArmVoltAct</text><text class="t" transform="translate(886 916)rotate(-90)">SpeedFbMonLev</text><text class="t" transform="translate(898.3 916)rotate(-90)">EMF FbMonLev</text><text class="t" transform="translate(910 916)rotate(-90)">SpeedFbFltSel</text>
<path class="w" d="M874 917.3V926M886.7 917.3V925.3M898.7 917.3V925.3M910.7 917.3V925.3"/>
<rect class="p" x="869" y="926" width="10" height="30" rx="5" ry="8"/><text class="n" transform="translate(874 941)rotate(-90)">1.14</text>
<rect class="p" x="881.7" y="925.3" width="10" height="30"/><text class="n" transform="translate(886.7 940.3)rotate(-90)">30.14</text>
<rect class="p" x="893.7" y="925.3" width="10" height="30"/><text class="n" transform="translate(898.7 940.3)rotate(-90)">30.15</text>
<rect class="p" x="905.7" y="925.3" width="10" height="30"/><text class="n" transform="translate(910.7 940.3)rotate(-90)">30.17</text>
</g>
<g id="F532">
<rect class="B" x="921.7" y="859.3" width="40.6" height="58"/><path class="f" d="M945.7 859.3V917.3"/>
<path fill="none" stroke="#000" stroke-width="1" d="M925 888V879.3H933.3V895H941.7V901"/>
<text class="t b" transform="translate(936 831.7)rotate(-90)">F532 MotOverSpeed</text>
<text class="t" transform="translate(951.7 916)rotate(-90)">M1OvrSpeed</text>
<path class="w" d="M951.7 917.3V925.3"/>
<rect class="p" x="946.7" y="925.3" width="10" height="30"/><text class="n" transform="translate(951.7 940.3)rotate(-90)">30.16</text>
</g>
<g id="DriveLogic">
<rect class="B" x="968.3" y="859.3" width="73.4" height="58"/><path class="f" d="M984.7 859.3V917.3"/>
<path fill="none" stroke="#000" stroke-width="1" d="M980 878V886H972V897H980V903"/>
<text class="t b" transform="translate(973.3 831.7)rotate(-90)">Drive logic</text>
<text class="t" transform="translate(990 916)rotate(-90)">M1ZeroSpeedLim</text><text class="t" transform="translate(1027.3 916)rotate(-90)">DynBrakeDly</text>
<path class="w" d="M990.7 917.3V925.3M1028.7 917.3V925.3"/>
<rect class="p" x="985.7" y="925.3" width="10" height="30"/><text class="n" transform="translate(990.7 940.3)rotate(-90)">20.03</text>
<rect class="p" x="1023.7" y="925.3" width="10" height="30"/><text class="n" transform="translate(1028.7 940.3)rotate(-90)">50.11</text>
</g>
</svg>
